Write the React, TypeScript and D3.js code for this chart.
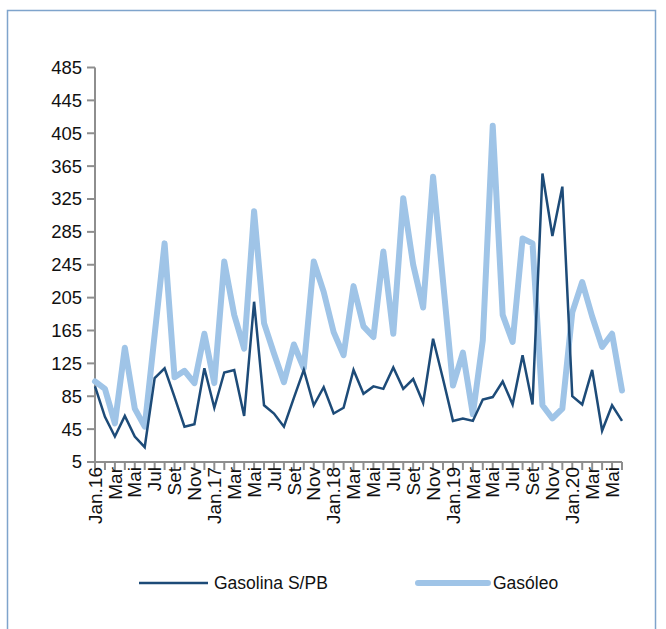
import React from 'react';
import * as d3 from 'd3';

// months Jan.16 .. Jun.20
const months = ['Jan', 'Fev', 'Mar', 'Abr', 'Mai', 'Jun', 'Jul', 'Ago', 'Set', 'Out', 'Nov', 'Dez'];
const startYear = 16;
const nMonths = 54;

const gasolina = [
  97, 60, 36, 61, 36, 23, 107, 119, 84, 48, 51, 119, 71, 114,
  117, 61, 200, 74, 64, 48, 83, 117, 74, 96, 64, 71, 117,
  88, 97, 94, 120, 94, 106, 77, 155, 106, 55, 58, 55, 81,
  84, 103, 75, 135, 75, 356, 280, 340, 85, 75, 117, 43, 74, 55,
];

const gasoleo = [
  103, 94, 52, 144, 70, 48, 160, 271, 108, 116, 101, 161, 101, 249,
  184, 143, 310, 174, 137, 102, 148, 119, 249, 212, 163, 135, 219,
  170, 157, 261, 161, 326, 245, 193, 352, 225, 98, 138, 63, 153,
  414, 184, 151, 277, 271, 74, 58, 70, 187, 224, 182, 145, 161, 92,
];

const yTicks = d3.range(5, 486, 40);

const monthLabel = (i: number) => {
  const m = i % 12;
  const yr = startYear + Math.floor(i / 12);
  return m === 0 ? `Jan.${yr}` : months[m];
};

const W = 666;
const H = 629;
const axisColor = '#8e8e8e';
const darkBlue = '#1d4b78';
const lightBlue = '#9fc4e7';

export default function App() {
  const idx = d3.range(nMonths);
  const x = d3.scaleLinear().domain([0, nMonths - 1]).range([95, 622]);
  const y = d3.scaleLinear().domain([5, 485]).range([462, 67.5]);

  const line = (vals: number[]) =>
    d3.line<number>()
      .x((_, i) => x(i))
      .y(d => y(d))(vals) || '';

  const font = '"Liberation Sans", Arial, sans-serif';

  return (
    <svg width={W} height={H} style={{ position: 'absolute', left: 0, top: 0, background: '#fff' }}
      fontFamily={font}>
      {/* frame */}
      <rect x={7.5} y={10.5} width={648} height={660} fill="none" stroke="#7fa4cc" strokeWidth={1.5} />

      {/* y axis */}
      <line x1={x(0)} x2={x(0)} y1={y(485)} y2={y(5)} stroke={axisColor} strokeWidth={2} />
      {yTicks.map(t => (
        <g key={t}>
          <line x1={x(0) - 8} x2={x(0)} y1={y(t)} y2={y(t)} stroke={axisColor} strokeWidth={2} />
          <text x={x(0) - 13} y={y(t)} dy="0.35em" textAnchor="end" fontSize={18.5} fill="#111">{t}</text>
        </g>
      ))}

      {/* x axis */}
      <line x1={x(0)} x2={x(nMonths - 1)} y1={y(5)} y2={y(5)} stroke={axisColor} strokeWidth={2} />
      {idx.map(i => (
        <line key={i} x1={x(i)} x2={x(i)} y1={y(5)} y2={y(5) + 8} stroke={axisColor} strokeWidth={2} />
      ))}
      {idx.filter(i => i % 2 === 0).map(i => (
        <text key={i} transform={`translate(${x(i)},${y(5) + 5}) rotate(-90)`} dy="0.35em"
          textAnchor="end" fontSize={19} fill="#111">{monthLabel(i)}</text>
      ))}

      {/* series */}
      <path d={line(gasoleo)} fill="none" stroke={lightBlue} strokeWidth={6} strokeLinejoin="round" strokeLinecap="round" />
      <path d={line(gasolina)} fill="none" stroke={darkBlue} strokeWidth={2.5} strokeLinejoin="miter" />

      {/* legend */}
      <line x1={139} x2={208} y1={583} y2={583} stroke={darkBlue} strokeWidth={2.5} />
      <text x={214} y={583} dy="0.35em" fontSize={17.5} fill="#111">Gasolina S/PB</text>
      <line x1={418} x2={488} y1={583} y2={583} stroke={lightBlue} strokeWidth={6} strokeLinecap="round" />
      <text x={493} y={583} dy="0.35em" fontSize={17.5} fill="#111">Gasóleo</text>
    </svg>
  );
}
